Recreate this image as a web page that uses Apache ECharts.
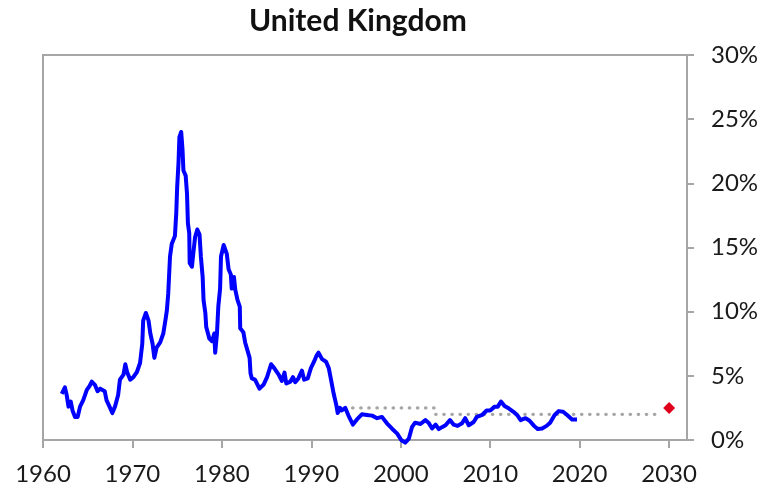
<!DOCTYPE html>
<html>
<head>
<meta charset="utf-8">
<script src="https://cdn.jsdelivr.net/npm/echarts@6/dist/echarts.min.js"></script>
<style>
  html, body { margin: 0; padding: 0; background: #fff; }
  #chart { width: 766px; height: 491px; }
</style>
</head>
<body>
<div id="chart"></div>
<script>
// UK inflation, % year on year
const years = [
    1962.1, 1962.45, 1962.65, 1962.85, 1963.1, 1963.3, 1963.58, 1963.88, 1964.14, 1964.5,
    1964.9, 1965.2, 1965.45, 1965.8, 1966.1, 1966.4, 1966.9, 1967.1, 1967.5, 1967.75,
    1968.05, 1968.4, 1968.6, 1969.0, 1969.2, 1969.4, 1969.75, 1970.1, 1970.5, 1970.85,
    1971.1, 1971.2, 1971.5, 1971.8, 1972.0, 1972.25, 1972.45, 1972.7, 1973.1, 1973.45,
    1973.7, 1973.85, 1974.0, 1974.2, 1974.4, 1974.75, 1974.9, 1975.0, 1975.15, 1975.25,
    1975.45, 1975.6, 1975.7, 1975.95, 1976.1, 1976.2, 1976.35, 1976.4, 1976.65, 1976.8,
    1977.0, 1977.25, 1977.5, 1977.65, 1977.85, 1977.95, 1978.15, 1978.25, 1978.6, 1978.9,
    1979.15, 1979.25, 1979.45, 1979.6, 1979.8, 1979.9, 1980.2, 1980.35, 1980.55, 1980.75,
    1981.0, 1981.1, 1981.35, 1981.5, 1981.75, 1982.0, 1982.05, 1982.4, 1982.6, 1982.85,
    1983.1, 1983.2, 1983.35, 1983.7, 1984.2, 1984.65, 1985.05, 1985.5, 1985.85, 1986.35,
    1986.7, 1987.0, 1987.2, 1987.65, 1987.95, 1988.2, 1988.55, 1988.95, 1989.2, 1989.6,
    1989.95, 1990.3, 1990.6, 1990.8, 1991.2, 1991.65, 1991.95, 1992.2, 1992.5, 1992.8,
    1992.95, 1993.2, 1993.4, 1993.8, 1994.15, 1994.65, 1995.1, 1995.65, 1996.2, 1996.8,
    1997.35, 1997.9, 1998.45, 1999.0, 1999.6, 2000.05, 2000.5, 2000.9, 2001.25, 2001.6,
    2002.2, 2002.75, 2003.1, 2003.5, 2003.9, 2004.25, 2004.6, 2005.0, 2005.5, 2005.9,
    2006.35, 2006.85, 2007.2, 2007.6, 2008.15, 2008.5, 2009.1, 2009.6, 2010.0, 2010.5,
    2010.85, 2011.2, 2011.6, 2012.1, 2012.6, 2013.0, 2013.4, 2013.95, 2014.4, 2014.9,
    2015.3, 2015.8, 2016.3, 2016.7, 2017.2, 2017.65, 2018.15, 2018.6, 2019.15, 2019.7
];
const inflation = [
    3.6, 4.1, 3.5, 2.6, 3.0, 2.3, 1.8, 1.8, 2.6, 3.1,
    3.9, 4.2, 4.55, 4.3, 3.8, 4.0, 3.8, 3.1, 2.5, 2.1,
    2.6, 3.5, 4.7, 5.1, 5.9, 5.3, 4.7, 4.9, 5.3, 6.0,
    7.5, 9.3, 9.9, 9.3, 8.3, 7.5, 6.4, 7.2, 7.6, 8.3,
    9.4, 10.1, 11.4, 14.3, 15.3, 15.9, 17.7, 19.7, 21.6, 23.6,
    24.0, 22.6, 21.0, 20.6, 19.2, 16.9, 16.1, 13.8, 13.5, 14.5,
    15.8, 16.4, 16.0, 14.3, 12.7, 10.9, 9.9, 8.8, 7.9, 7.7,
    8.3, 6.8, 8.3, 10.4, 11.8, 14.3, 15.2, 15.3, 14.5, 13.3,
    12.9, 11.8, 12.7, 11.7, 10.9, 10.4, 8.7, 8.4, 7.6, 7.0,
    6.4, 5.2, 4.8, 4.7, 4.0, 4.3, 4.9, 5.9, 5.6, 5.1,
    4.6, 5.25, 4.4, 4.55, 4.9, 4.5, 4.8, 5.4, 4.7, 4.8,
    5.6, 6.1, 6.6, 6.8, 6.3, 6.1, 5.6, 4.7, 3.6, 2.7,
    2.1, 2.5, 2.3, 2.5, 1.9, 1.2, 1.6, 2.0, 1.95, 1.9,
    1.7, 1.8, 1.3, 0.9, 0.5, 0.0, -0.2, 0.1, 1.0, 1.35,
    1.25, 1.55, 1.35, 0.9, 1.2, 0.85, 1.0, 1.15, 1.55, 1.2,
    1.1, 1.3, 1.7, 1.15, 1.4, 1.8, 1.95, 2.3, 2.3, 2.6,
    2.6, 3.0, 2.65, 2.45, 2.2, 1.95, 1.55, 1.7, 1.5, 1.1,
    0.85, 0.9, 1.1, 1.35, 1.95, 2.25, 2.2, 1.95, 1.6, 1.6
];

// inflation targets (dotted) and the 2030 marker
const targetOldYears = [1992.8, 2003.8];
const targetOld = [2.5, 2.5];
const targetNewYears = [2003.9, 2029.2];
const targetNew = [2, 2];
const markerYear = [2030];
const marker = [2.5];

const xTicks = [1960, 1970, 1980, 1990, 2000, 2010, 2020, 2030];
const yTicks = [0, 5, 10, 15, 20, 25, 30];

const zip = (xs, ys) => xs.map((x, i) => [x, ys[i]]);

const axisGrey = "#a6a6a6";
const labelFont = {
    fontFamily: "Lato",
    fontWeight: "normal",
    fontSize: 24,
    color: "#1a1a1a"
};

const chart = echarts.init(document.getElementById("chart"));
chart.setOption({
    animation: false,
    title: {
        text: "United Kingdom",
        left: 249,
        top: 6,
        padding: 0,
        textStyle: {
            fontFamily: "Lato",
            fontWeight: "bold",
            fontSize: 30,
            color: "#111"
        }
    },
    grid: {
        left: 43,
        right: 79,
        top: 55,
        bottom: 51,
        show: true,
        borderColor: axisGrey,
        borderWidth: 2
    },
    xAxis: {
        type: "value",
        min: 1960,
        max: 2032,
        interval: 10,
        splitLine: { show: false },
        axisLine: { lineStyle: { color: axisGrey, width: 2 } },
        axisTick: {
            show: true,
            length: 8,
            lineStyle: { color: axisGrey, width: 2 },
            customValues: xTicks
        },
        axisLabel: {
            margin: 22,
            customValues: xTicks,
            formatter: (v) => String(v),
            ...labelFont
        }
    },
    yAxis: {
        type: "value",
        position: "right",
        min: 0,
        max: 30,
        interval: 5,
        splitLine: { show: false },
        axisLine: { show: true, lineStyle: { color: axisGrey, width: 2 } },
        axisTick: {
            show: true,
            length: 7,
            lineStyle: { color: axisGrey, width: 2 },
            customValues: yTicks
        },
        axisLabel: {
            margin: 24,
            formatter: "{value}%",
            ...labelFont
        }
    },
    series: [
        {
            type: "line",
            data: zip(targetOldYears, targetOld),
            symbol: "none",
            lineStyle: { color: "#a6a6a6", width: 3.2, type: [0.5, 7.6], cap: "round" }
        },
        {
            type: "line",
            data: zip(targetNewYears, targetNew),
            symbol: "none",
            lineStyle: { color: "#a6a6a6", width: 3.2, type: [0.5, 7.6], cap: "round" }
        },
        {
            type: "line",
            data: zip(years, inflation),
            symbol: "none",
            clip: false,
            lineStyle: { color: "#0000ff", width: 4, join: "round" }
        },
        {
            type: "scatter",
            data: zip(markerYear, marker),
            symbol: "diamond",
            symbolSize: [12, 12],
            itemStyle: { color: "#e0001b", opacity: 1 }
        }
    ]
});
</script>
</body>
</html>
